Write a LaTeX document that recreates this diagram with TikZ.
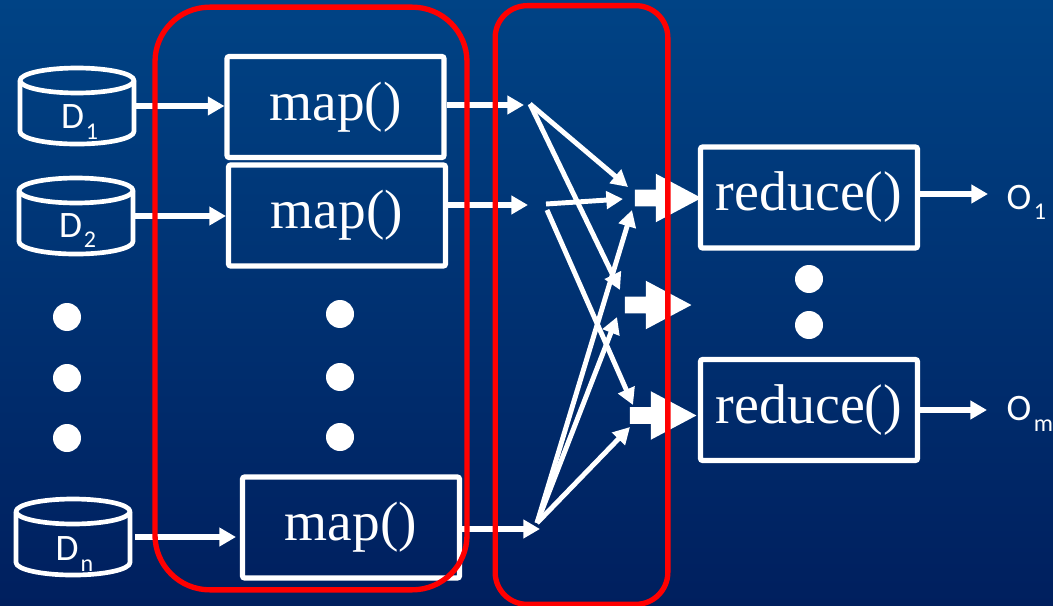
\documentclass[tikz,border=0pt]{standalone}
\usepackage{fontspec}
\setmainfont{Liberation Serif}
\newfontfamily\calfont{Carlito}
\usetikzlibrary{arrows.meta,shapes.arrows}
\definecolor{bgtop}{HTML}{004385}
\definecolor{bgbot}{HTML}{001F5E}
\tikzset{
  px/.style={x=0.75pt,y=-0.75pt},
  fnbox/.style={draw=white,line width=3.8pt,rounded corners=1.5pt,inner sep=0pt,text=white},
  mapbox/.style={fnbox,minimum width=162.75pt,minimum height=75.75pt,font=\fontsize{41.5}{42}\selectfont},
  reducebox/.style={mapbox,font=\fontsize{42}{42}\selectfont},
  redbox/.style={draw=red,line width=4pt,inner sep=0pt},
  store/.style={inner sep=0pt,minimum width=85.5pt,minimum height=58pt},
  drum/.style={draw=white,line width=3.5pt,line join=round},
  lab/.style={text=white,inner sep=0pt,font=\calfont\fontsize{28}{28}\selectfont},
  sublab/.style={text=white,inner sep=0pt,font=\calfont\fontsize{18}{18}\selectfont},
  flow/.style={draw=white,line width=4.2pt,-{Triangle[length=12.5pt,width=13.5pt]}},
  thin flow/.style={draw=white,line width=3.7pt,-{Triangle[length=12.5pt,width=13pt]}},
  dot/.style={circle,fill=white,minimum size=21pt,inner sep=0pt},
  block/.style={single arrow,fill=white,anchor=tip,minimum width=36pt,minimum height=50pt,inner xsep=0pt,inner ysep=6pt,
     single arrow head extend=12pt,single arrow tip angle=56,single arrow head indent=0pt},
}
% outline of a drum around a named node
\newcommand{\drumaround}[1]{%
  \begin{scope}[shift={(#1.center)}]
    \draw[drum] (0,-25.5) ellipse [x radius=57, y radius=12.5];
    \draw[drum] (-57,-25.5) -- (-57,25.5) arc[start angle=180,end angle=360,x radius=42.75pt,y radius=9.4pt] -- (57,-25.5);
  \end{scope}}
\begin{document}
\begin{tikzpicture}[px]
\useasboundingbox (0,0) rectangle (1053,606);
\shade[top color=bgtop,bottom color=bgbot] (0,0) rectangle (1053,606);

% stores
\node[store] (d1) at (77,106) {};
\node[store] (d2) at (76,216) {};
\node[store] (dn) at (73,537) {};
\drumaround{d1}
\drumaround{d2}
\drumaround{dn}
\node[lab] (d1t) at (72.5,117) {D};
\node[sublab] (d1s) at (92,132) {1};
\node[lab] (d2t) at (70.5,225.5) {D};
\node[sublab] (d2s) at (90,240) {2};
\node[lab] (dnt) at (67,549) {D};
\node[sublab] (dns) at (87,566) {n};

% map and reduce boxes
\node[mapbox] (m1) at (335.5,107) {map()};
\node[mapbox] (m2) at (337,215.5) {map()};
\node[mapbox] (m3) at (351,527.5) {map()};
\node[reducebox] (r1) at (809,197.5) {reduce()};
\node[reducebox] (r2) at (809,410) {reduce()};

% dots
\node[dot] (a1) at (67,317) {};
\node[dot] (a2) at (67,378) {};
\node[dot] (a3) at (67,438) {};
\node[dot] (b1) at (340,314) {};
\node[dot] (b2) at (340,377) {};
\node[dot] (b3) at (340,437) {};
\node[dot] (c1) at (809,279) {};
\node[dot] (c2) at (809,325) {};

% outputs
\node[lab] (o1) at (1019,197.5) {O};
\node[sublab] (o1s) at (1040,212) {1};
\node[lab] (om) at (1019,408.5) {O};
\node[sublab] (oms) at (1043.5,426) {m};

% free ends
\coordinate (i1) at (136,106);
\coordinate (i2) at (135,216);
\coordinate (i3) at (135,537);
\coordinate (i3e) at (236,537);
\coordinate (s1) at (524,105);
\coordinate (s2) at (528,205);
\coordinate (s3) at (540,529);
\coordinate (p1) at (530,104);
\coordinate (p2a) at (546,204);
\coordinate (p2b) at (547,210);
\coordinate (p3) at (537,523);
\coordinate (t1a) at (628,187);
\coordinate (t1b) at (623,199);
\coordinate (t1c) at (632,210);
\coordinate (t2a) at (620,290);
\coordinate (t2b) at (617,317);
\coordinate (t3a) at (633,405);
\coordinate (t3b) at (630,427);
\coordinate (q1) at (988,194);
\coordinate (q2) at (987,410);

% connectors
\draw[flow] (i1) -- (m1.west |- i1);
\draw[flow] (i2) -- (m2.west |- i2);
\draw[flow] (i3) -- (i3e);
\draw[flow] (m1.east |- s1) -- (s1);
\draw[flow] (m2.east |- s2) -- (s2);
\draw[flow] (m3.east |- s3) -- (s3);
\draw[flow] (r1.east |- q1) -- (q1);
\draw[flow] (r2.east |- q2) -- (q2);

\draw[thin flow] (p1) -- (t1a);
\draw[thin flow] (p1) -- (t2a);
\draw[thin flow] (p2a) -- (t1b);
\draw[thin flow] (p2b) -- (t3a);
\draw[thin flow] (p3) -- (t1c);
\draw[thin flow] (p3) -- (t2b);
\draw[thin flow] (p3) -- (t3b);

% block arrows
\node[block] (k1) at (702,198) {};
\node[block] (k2) at (692,305) {};
\node[block] (k3) at (697,415.5) {};

% red groups
\node[redbox,minimum width=234pt,minimum height=437pt,rounded corners=41pt] (g1) at (311,298.5) {};
\node[redbox,minimum width=129.5pt,minimum height=449pt,rounded corners=24pt] (g2) at (581.5,305) {};
\end{tikzpicture}
\end{document}
